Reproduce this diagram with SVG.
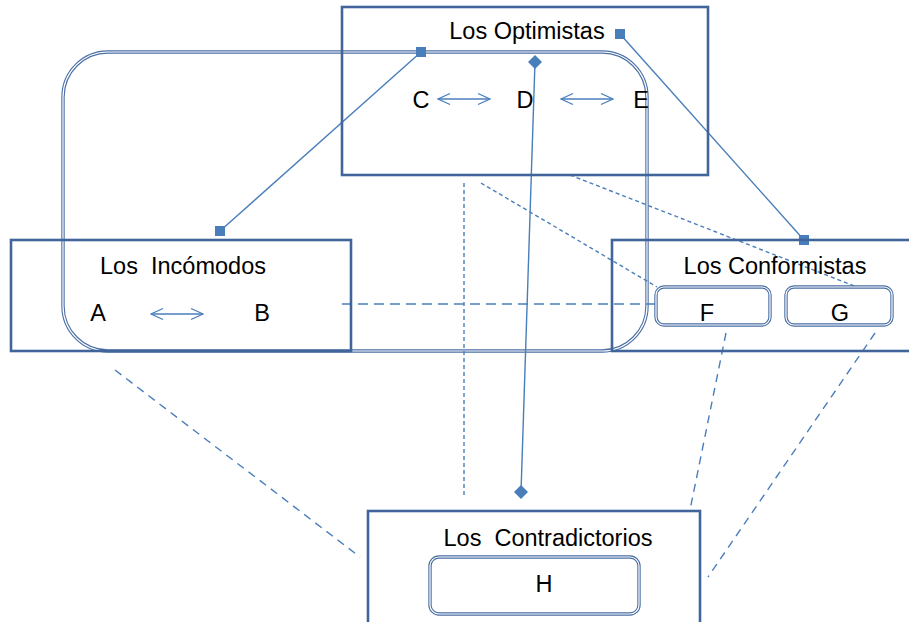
<svg xmlns="http://www.w3.org/2000/svg" width="909" height="622" viewBox="0 0 909 622">
<defs>
<style>
.box{fill:none;stroke:#41659a;stroke-width:2.6}
.dbl{fill:none;stroke:#4a6fa5;stroke-width:3.4}
.dblin{fill:none;stroke:#ffffff;stroke-width:1.2}
.sbox{fill:#fff;stroke:#4a6fa5;stroke-width:3.4}
.t{font-family:"Liberation Sans",Arial,sans-serif;font-size:23.5px;fill:#000;text-anchor:middle}
.c{fill:none;stroke:#4a7ebb;stroke-width:1.4}
.d1{stroke-dasharray:4 3}
.d2{stroke-dasharray:10 6}
.d3{stroke-dasharray:8 6}
.ar{fill:none;stroke:#4a7ebb;stroke-width:1.3}
</style>
<marker id="sq" viewBox="0 0 10 10" refX="5" refY="5" markerWidth="10" markerHeight="10" markerUnits="userSpaceOnUse" orient="0"><rect x="0" y="0" width="10" height="10" fill="#4a7ebb"/></marker>
<marker id="dm" viewBox="0 0 14 14" refX="7" refY="7" markerWidth="14" markerHeight="14" markerUnits="userSpaceOnUse" orient="0"><path d="M0,7 L7,0 L14,7 L7,14 Z" fill="#4a7ebb"/></marker>
<marker id="ah" viewBox="0 0 14 14" refX="13" refY="7" markerWidth="14" markerHeight="14" markerUnits="userSpaceOnUse" orient="auto-start-reverse"><path d="M1,1.5 L13,7 L1,12.5" fill="none" stroke="#4a7ebb" stroke-width="1.3"/></marker>
</defs>

<g id="frame">
<rect class="dbl" x="63" y="52" width="584" height="299" rx="45"/>
<rect class="dblin" x="63" y="52" width="584" height="299" rx="45"/>
</g>

<g id="connectors">
<line class="c d1" x1="464" y1="183" x2="464" y2="498"/>
<line class="c d1" x1="481" y1="183" x2="657" y2="287"/>
<line class="c d1" x1="570" y1="175" x2="857" y2="287"/>
<line class="c d2" x1="342" y1="304" x2="657" y2="304"/>
<line class="c d3" x1="115" y1="370" x2="360" y2="557"/>
<line class="c d3" x1="726" y1="333" x2="690" y2="510"/>
<line class="c d3" x1="875" y1="333" x2="708" y2="577"/>
<line class="c" x1="421" y1="52" x2="220" y2="231" marker-start="url(#sq)" marker-end="url(#sq)"/>
<line class="c" x1="620" y1="34" x2="804" y2="240" marker-start="url(#sq)" marker-end="url(#sq)"/>
<line class="c" x1="535" y1="62" x2="521" y2="492" marker-start="url(#dm)" marker-end="url(#dm)"/>
<line class="ar" x1="438" y1="99" x2="490" y2="99" marker-start="url(#ah)" marker-end="url(#ah)"/>
<line class="ar" x1="561" y1="99" x2="613" y2="99" marker-start="url(#ah)" marker-end="url(#ah)"/>
<line class="ar" x1="151" y1="314" x2="203" y2="314" marker-start="url(#ah)" marker-end="url(#ah)"/>
</g>

<g id="optimistas">
<rect class="box" x="342" y="7" width="366" height="168"/>
<text class="t" x="527" y="39">Los Optimistas</text>
<text class="t" x="421" y="108">C</text>
<text class="t" x="525" y="108">D</text>
<text class="t" x="641" y="108">E</text>
</g>

<g id="incomodos">
<rect class="box" x="11" y="240" width="340" height="111"/>
<text class="t" x="183" y="274" xml:space="preserve">Los  Incómodos</text>
<text class="t" x="98" y="321">A</text>
<text class="t" x="262" y="321">B</text>
</g>

<g id="conformistas">
<rect class="box" x="612" y="240" width="310" height="111"/>
<text class="t" x="775" y="274">Los Conformistas</text>
<g id="F">
<rect class="sbox" x="656" y="287" width="114" height="38" rx="8"/>
<rect class="dblin" x="656" y="287" width="114" height="38" rx="8"/>
<text class="t" x="707" y="321">F</text>
</g>
<g id="G">
<rect class="sbox" x="786" y="287" width="106" height="38" rx="8"/>
<rect class="dblin" x="786" y="287" width="106" height="38" rx="8"/>
<text class="t" x="840" y="321">G</text>
</g>
</g>

<g id="contradictorios">
<rect class="box" x="368" y="511" width="332" height="120"/>
<text class="t" x="548" y="546" xml:space="preserve">Los  Contradictorios</text>
<g id="H">
<rect class="sbox" x="430" y="557" width="209" height="57" rx="9"/>
<rect class="dblin" x="430" y="557" width="209" height="57" rx="9"/>
<text class="t" x="544" y="592">H</text>
</g>
</g>
</svg>
